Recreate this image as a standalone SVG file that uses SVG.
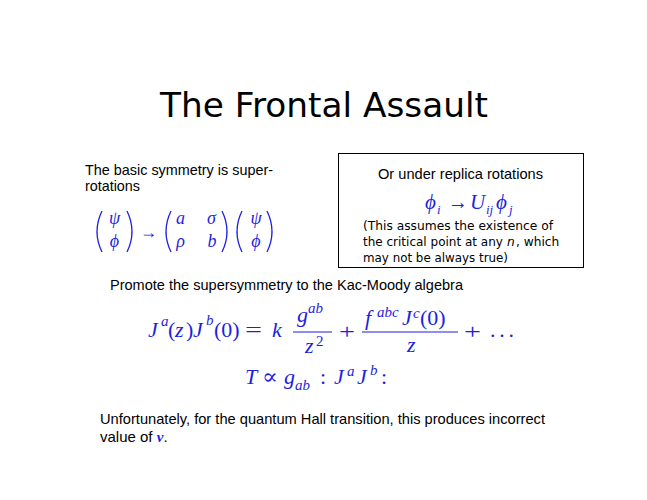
<svg xmlns="http://www.w3.org/2000/svg" width="647" height="500" viewBox="0 0 647 500">
<style>
.t{font-family:"Liberation Sans",Arial,sans-serif;font-size:15px;fill:#000}
.c{font-family:"DejaVu Sans",sans-serif;fill:#000}
.m{font-family:"Liberation Serif","DejaVu Serif",serif;fill:#1f1fe0}
.i{font-style:italic}
.s{font-size:15px}
.p{fill:none;stroke:#1f1fe0;stroke-width:1.3}
.bar{stroke:#1f1fe0;stroke-width:1.2}
</style>
<rect width="647" height="500" fill="#fff"/>
<g id="title">
<text class="c" x="160" y="117" font-size="34" textLength="328" lengthAdjust="spacingAndGlyphs">The Frontal Assault</text>
</g>
<g id="symmetry">
<text class="t" x="85" y="175" textLength="188" lengthAdjust="spacingAndGlyphs">The basic symmetry is super-</text>
<text class="t" x="85" y="191" textLength="55" lengthAdjust="spacingAndGlyphs">rotations</text>
<path class="p" d="M102,211 Q92,231.5 102,252"/>
<path class="p" d="M127,211 Q137,231.5 127,252"/>
<path class="p" d="M171,211 Q161,231.5 171,252"/>
<path class="p" d="M222,211 Q232,231.5 222,252"/>
<path class="p" d="M242,211 Q232,231.5 242,252"/>
<path class="p" d="M267,211 Q277,231.5 267,252"/>
<g class="m i" font-size="18" text-anchor="middle">
<text x="114.5" y="224">ψ</text>
<text x="114.5" y="247">ϕ</text>
<text x="180.5" y="224">a</text>
<text x="211.5" y="224">σ</text>
<text x="180.5" y="247">ρ</text>
<text x="212" y="247">b</text>
<text x="256" y="224">ψ</text>
<text x="256" y="247">ϕ</text>
</g>
<text class="m" x="140" y="238" font-size="18" textLength="17" lengthAdjust="spacingAndGlyphs">→</text>
</g>
<g id="replica-box">
<rect x="338.5" y="153.5" width="245" height="114" fill="#fff" stroke="#000" stroke-width="1"/>
<text class="t" x="378" y="179" textLength="165" lengthAdjust="spacingAndGlyphs">Or under replica rotations</text>
<g class="m" font-size="21">
<text class="i" x="425" y="209">ϕ</text>
<text class="i" x="437" y="214" font-size="13">i</text>
<text x="448" y="209" textLength="20" lengthAdjust="spacingAndGlyphs">→</text>
<text class="i" x="470" y="209">U</text>
<text class="i" x="486" y="214" font-size="13">ij</text>
<text class="i" x="496" y="209">ϕ</text>
<text class="i" x="509" y="214" font-size="13">j</text>
</g>
<g class="c" font-size="12.2">
<text x="363" y="230" textLength="190" lengthAdjust="spacingAndGlyphs">(This assumes the existence of</text>
<text x="363" y="246" font-size="12">the critical point at any</text>
<text x="507" y="246" font-style="italic">n</text>
<text x="516" y="246">, which</text>
<text x="363" y="262" textLength="145" lengthAdjust="spacingAndGlyphs">may not be always true)</text>
</g>
</g>
<g id="promote">
<text class="t" x="110" y="290" textLength="353" lengthAdjust="spacingAndGlyphs">Promote the supersymmetry to the Kac-Moody algebra</text>
</g>
<g id="equation1" class="m" font-size="22">
<text class="i" x="148" y="337">J</text>
<text class="i s" x="161" y="326">a</text>
<text x="168" y="337">(</text>
<text class="i" x="175" y="337">z</text>
<text x="186" y="337">)</text>
<text class="i" x="193" y="337">J</text>
<text class="i s" x="206" y="325">b</text>
<text x="214" y="337">(0)</text>
<text x="245" y="337" textLength="17" lengthAdjust="spacingAndGlyphs">=</text>
<text class="i" x="272" y="337">k</text>
<line class="bar" x1="293" y1="332" x2="332" y2="332"/>
<text class="i" x="297" y="322">g</text>
<text class="i s" x="308" y="313">ab</text>
<text class="i" x="305" y="353">z</text>
<text class="s" x="316" y="346">2</text>
<text x="339" y="339" textLength="16" lengthAdjust="spacingAndGlyphs">+</text>
<line class="bar" x1="362" y1="332" x2="458" y2="332"/>
<text class="i" x="365" y="325">f</text>
<text class="i s" x="377" y="317">abc</text>
<text class="i" x="402" y="325">J</text>
<text class="i s" x="413" y="318">c</text>
<text x="420" y="325">(0)</text>
<text class="i" x="407" y="352">z</text>
<text x="464" y="339" textLength="17" lengthAdjust="spacingAndGlyphs">+</text>
<text x="490" y="337" textLength="24" lengthAdjust="spacing">...</text>
</g>
<g id="equation2" class="m" font-size="22">
<text class="i" x="245" y="384">T</text>
<text x="262" y="384" textLength="16" lengthAdjust="spacingAndGlyphs">∝</text>
<text class="i" x="284" y="384">g</text>
<text class="i s" x="295" y="390">ab</text>
<text x="320" y="384">:</text>
<text class="i" x="334" y="384">J</text>
<text class="i s" x="347" y="376">a</text>
<text class="i" x="357" y="384">J</text>
<text class="i s" x="370" y="375">b</text>
<text x="381" y="384">:</text>
</g>
<g id="conclusion">
<text class="t" x="100" y="424" textLength="445" lengthAdjust="spacingAndGlyphs">Unfortunately, for the quantum Hall transition, this produces incorrect</text>
<text class="t" x="100" y="442">value of <tspan class="m i" font-weight="bold">ν</tspan>.</text>
</g>
</svg>
